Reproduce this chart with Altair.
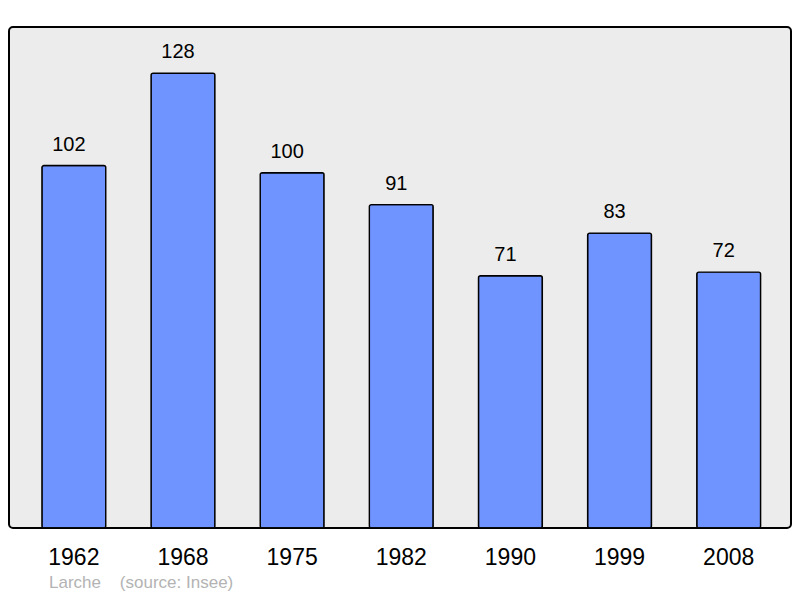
import altair as alt
import pandas as pd

YEARS = ["1962", "1968", "1975", "1982", "1990", "1999", "2008"]
POPULATION = [102, 128, 100, 91, 71, 83, 72]
CAPTION = "Larche\u00a0\u00a0\u00a0 (source: Insee)"

BAR_COLOR = "#7094ff"
BACKGROUND = "#ececec"

data = pd.DataFrame({"year": YEARS, "population": POPULATION})

base = alt.Chart(data).encode(
    x=alt.X(
        "year:N",
        sort=None,
        title=None,
        scale=alt.Scale(paddingInner=0.415, paddingOuter=0.29, align=0.52),
        axis=alt.Axis(
            labelAngle=0,
            labelFontSize=23,
            labelColor="#000000",
            labelFont="Liberation Sans",
            labelPadding=18,
            domain=False,
            ticks=False,
        ),
    ),
    y=alt.Y(
        "population:Q",
        scale=alt.Scale(domain=[0, 141], nice=False),
        axis=None,
    ),
)

bars = base.mark_bar(
    color=BAR_COLOR,
    stroke="#000000",
    strokeWidth=1.4,
    cornerRadius=2,
)

# value labels sit a little left of the bar centres in the original
labels = base.mark_text(
    baseline="alphabetic",
    dx=-5,
    dy=-15,
    fontSize=20,
    font="Liberation Sans",
    color="#000000",
).encode(text="population:Q")

chart = (
    (bars + labels)
    .properties(
        width=782,
        height=501,
        autosize=alt.AutoSizeParams(type="none"),
        padding={"left": 1, "top": 19, "right": 1, "bottom": 70},
        title=alt.TitleParams(
            text=CAPTION,
            orient="bottom",
            anchor="start",
            dx=40,
            offset=6,
            fontSize=17,
            fontWeight="normal",
            font="Liberation Sans",
            color="#b3b3b3",
        ),
    )
    .configure_view(
        fill=BACKGROUND,
        stroke="#000000",
        strokeWidth=2,
        cornerRadius=4,
    )
)

chart.save("out.html", embed_options={"renderer": "svg", "actions": False})
